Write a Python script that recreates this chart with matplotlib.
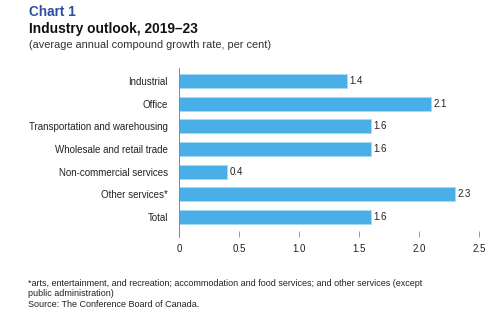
import matplotlib
matplotlib.use('Agg')
import matplotlib.pyplot as plt
import numpy as np

plt.rcParams['font.family'] = ['Liberation Sans', 'DejaVu Sans']

# industry growth outlook, 2019-23
categories = ['Industrial', 'Office', 'Transportation and warehousing',
              'Wholesale and retail trade', 'Non-commercial services',
              'Other services*', 'Total']
growth = [1.4, 2.1, 1.6, 1.6, 0.4, 2.3, 1.6]
xticks = [0, 0.5, 1.0, 1.5, 2.0, 2.5]
xtick_labels = ['0', '0.5', '1.0', '1.5', '2.0', '2.5']

bar_color = '#4aafe6'

fig = plt.figure(figsize=(5, 3.27), dpi=100)
ax = fig.add_axes([0.358, 0.275, 0.6, 0.517])

ypos = np.arange(len(categories))
ax.barh(ypos, growth, height=0.62, color=bar_color, edgecolor='#a8daf5', linewidth=0.6)
for y, v in zip(ypos, growth):
    ax.text(v + 0.02, y, f'{v:.1f}', va='center', ha='left', fontsize=7, color='#222222')

ax.set_ylim(6.88, -0.57)
ax.set_xlim(0, 2.5)
ax.set_yticks(ypos)
ax.set_yticklabels(categories, fontsize=7, color='#222222')
ax.set_xticks(xticks)
ax.set_xticklabels(xtick_labels, fontsize=7, color='#222222')
ax.tick_params(axis='y', length=0, pad=8)
ax.tick_params(axis='x', direction='in', length=4.3, width=0.6, color='#888888', pad=5)

for s in ['top', 'right', 'bottom']:
    ax.spines[s].set_visible(False)
ax.spines['left'].set_color('#888888')
ax.spines['left'].set_linewidth(0.7)

# headings
fig.text(0.058, 0.962, 'Chart 1', fontsize=9.8, fontweight='bold', color='#2a4fa0', va='center')
fig.text(0.058, 0.912, 'Industry outlook, 2019\u201323', fontsize=9.9, fontweight='bold',
         color='#111111', va='center')
fig.text(0.058, 0.862, '(average annual compound growth rate, per cent)', fontsize=7.9,
         color='#333333', va='center')

# notes
fig.text(0.056, 0.101, '*arts, entertainment, and recreation; accommodation and food services; '
         'and other services (except\npublic administration)\nSource: The Conference Board of Canada.',
         fontsize=6.5, color='#222222', va='center', linespacing=1.2)

fig.savefig('out.png', dpi=100)
